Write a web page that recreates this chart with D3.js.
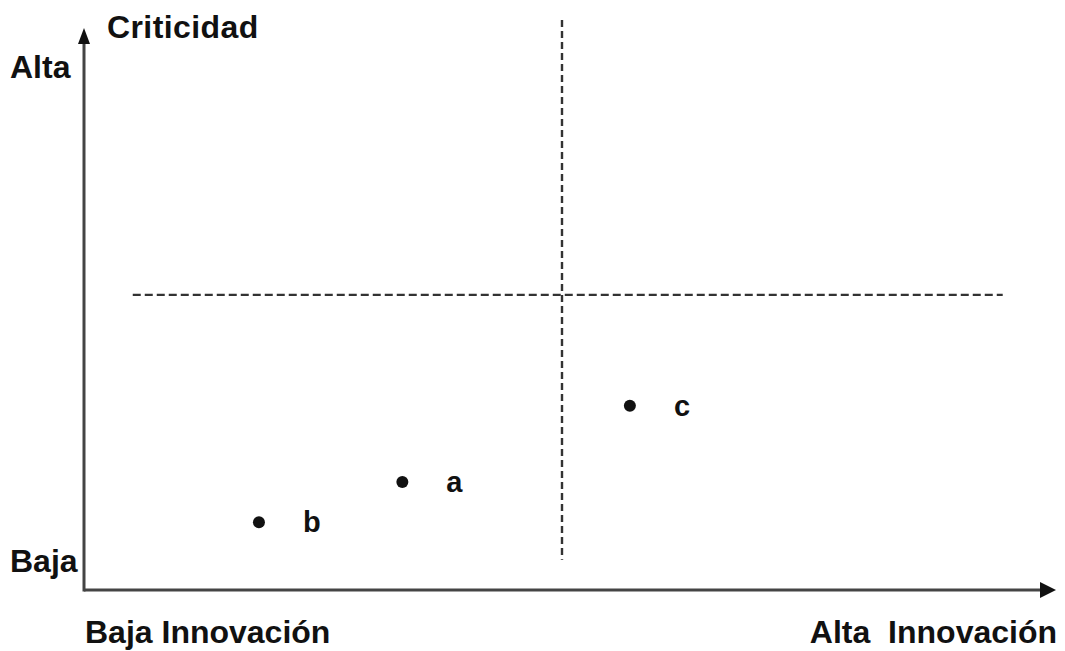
<!DOCTYPE html>
<html><head><meta charset="utf-8">
<script src="https://cdn.jsdelivr.net/npm/d3@7"></script>
<style>body{margin:0;background:#fff}svg{display:block}text{font-family:"Liberation Sans",Arial,sans-serif;font-weight:bold;fill:#111;white-space:pre}</style>
</head><body><svg id="c" width="1065" height="651"></svg>
<script>
const pointNames = ["b","a","c"];
const innovation = [18.3, 33.3, 57.1];
const criticality = [12.1, 19.3, 32.9];
const yLabels = ["Baja","Alta"];
const xLabels = ["Baja Innovación","Alta  Innovación"];
const yTitle = "Criticidad";
const xDivider = 50;
const yDivider = 52.7;

const svg = d3.select("#c");
const x = d3.scaleLinear().domain([0,100]).range([84,1040]);
const y = d3.scaleLinear().domain([0,100]).range([590,30]);

// axes
svg.append("line").attr("x1",x(0)).attr("x2",x(100)+4).attr("y1",y(0)).attr("y2",y(0))
  .attr("stroke","#444").attr("stroke-width",3);
svg.append("line").attr("x1",x(0)).attr("x2",x(0)).attr("y1",y(0)+1.5).attr("y2",y(100)+6)
  .attr("stroke","#444").attr("stroke-width",3);
// arrowheads
svg.append("path").attr("d",`M${x(100)},${y(0)-8} L${x(100)+16},${y(0)} L${x(100)},${y(0)+8} Z`).attr("fill","#111");
svg.append("path").attr("d",`M${x(0)-6},${y(100)+14} L${x(0)},${y(100)-2} L${x(0)+6},${y(100)+14} Z`).attr("fill","#111");

// dividers
svg.append("line").attr("x1",x(xDivider)).attr("x2",x(xDivider)).attr("y1",y(101.8)).attr("y2",y(5.4))
  .attr("stroke","#333").attr("stroke-width",2.4).attr("stroke-dasharray","7,4");
svg.append("line").attr("x1",x(5.1)).attr("x2",x(96.1)).attr("y1",y(yDivider)).attr("y2",y(yDivider))
  .attr("stroke","#333").attr("stroke-width",2.4).attr("stroke-dasharray","8,4");

// points
const pts = pointNames.map((n,i)=>({n, x:innovation[i], y:criticality[i]}));
svg.selectAll("circle.p").data(pts).enter().append("circle")
  .attr("cx",d=>x(d.x)).attr("cy",d=>y(d.y)).attr("r",6).attr("fill","#111");
svg.selectAll("text.p").data(pts).enter().append("text")
  .attr("x",d=>x(d.x)+44).attr("y",d=>y(d.y)+10).attr("font-size",29).text(d=>d.n);

// labels
svg.append("text").attr("x",107).attr("y",38).attr("font-size",32).attr("letter-spacing",0.4).text(yTitle);
svg.append("text").attr("x",10).attr("y",78).attr("font-size",32).text(yLabels[1]);
svg.append("text").attr("x",10).attr("y",572).attr("font-size",32).text(yLabels[0]);
svg.append("text").attr("x",85).attr("y",643).attr("font-size",32).text(xLabels[0]);
svg.append("text").attr("x",1057).attr("y",643).attr("font-size",32).attr("text-anchor","end").text(xLabels[1]);
</script></body></html>
